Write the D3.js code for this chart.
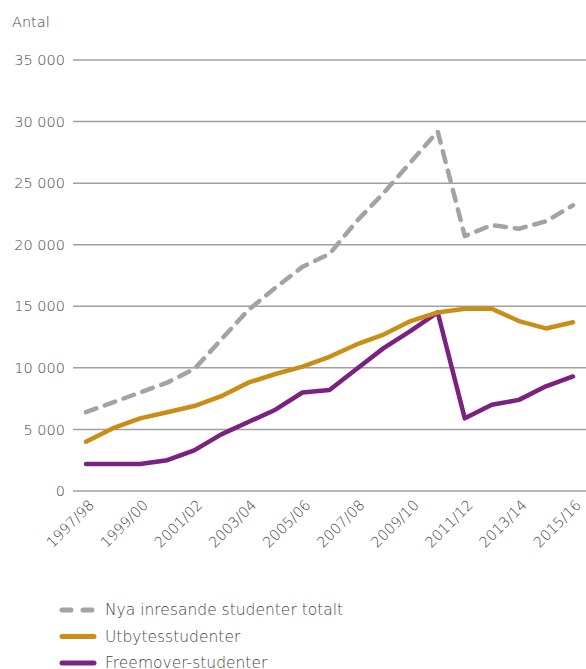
<!DOCTYPE html>
<html>
<head>
<meta charset="utf-8">
<script src="https://cdn.jsdelivr.net/npm/d3@7"></script>
<style>
  body { margin: 0; background: #fff; }
  text { font-family: "DejaVu Sans", sans-serif; font-weight: 200; fill: #444; }
  .lbl { opacity: 0.99; }
</style>
</head>
<body>
<div id="canvas"></div>
<script>
const years = ["1997/98","1998/99","1999/00","2000/01","2001/02","2002/03","2003/04","2004/05","2005/06","2006/07","2007/08","2008/09","2009/10","2010/11","2011/12","2012/13","2013/14","2014/15","2015/16"];
const totalt = [6400,7200,8000,8800,9900,12300,14700,16500,18200,19250,21900,24200,26700,29200,20700,21600,21300,21900,23200];
const utbytes = [4000,5100,5900,6400,6900,7700,8800,9500,10100,10900,11900,12700,13800,14500,14800,14800,13800,13200,13700];
const freemover = [2200,2200,2200,2500,3300,4600,5600,6600,8000,8200,9900,11600,13000,14500,5900,7000,7400,8500,9300];
const yTicks = [0,5000,10000,15000,20000,25000,30000,35000];
const xLabels = ["1997/98","1999/00","2001/02","2003/04","2005/06","2007/08","2009/10","2011/12","2013/14","2015/16"];

const series = [
  {name: "Freemover-studenter", values: freemover, color: "#7b2182", dash: null},
  {name: "Utbytesstudenter", values: utbytes, color: "#c98e17", dash: null},
  {name: "Nya inresande studenter totalt", values: totalt, color: "#a3a3a3", dash: "11,9"}
];
const legendOrder = [series[2], series[1], series[0]];

const w = 586, h = 669;
const margin = {top: 60, left: 73, right: 0, bottom: 178};

const svg = d3.select("#canvas").append("svg")
  .attr("width", w).attr("height", h);

const x = d3.scalePoint().domain(years).range([86, 573]);
const y = d3.scaleLinear().domain([0, 35000]).range([491, 60]);

const fmt = d => d3.format(",")(d).replace(",", " ");

// grid
svg.append("g").selectAll("line").data(yTicks).join("line")
  .attr("x1", margin.left).attr("x2", w)
  .attr("y1", d => y(d)).attr("y2", d => y(d))
  .attr("stroke", "#a0a0a0").attr("stroke-width", 1.5);

svg.append("g").attr("class", "lbl").selectAll("text").data(yTicks).join("text")
  .attr("x", 65).attr("y", d => y(d)).attr("dy", "0.35em")
  .attr("text-anchor", "end").style("font-size", "14.5px")
  .text(fmt);

svg.append("text").attr("class", "lbl").attr("x", 12).attr("y", 27)
  .style("font-size", "14.5px").text("Antal");

// x labels
svg.append("g").attr("class", "lbl").selectAll("text").data(xLabels).join("text")
  .attr("text-anchor", "end").style("font-size", "14.5px")
  .attr("transform", d => "translate(" + (x(d) + 9) + ",506) rotate(-45)")
  .text(d => d);

const line = d3.line().x((d, i) => x(years[i])).y(d => y(d));

svg.append("g").selectAll("path").data(series).join("path")
  .attr("d", d => line(d.values))
  .attr("fill", "none")
  .attr("stroke", d => d.color)
  .attr("stroke-width", 4.5)
  .attr("stroke-linecap", "round")
  .attr("stroke-linejoin", "round")
  .attr("stroke-dasharray", d => d.dash);

// legend
const lg = svg.append("g").attr("class", "lbl").selectAll("g").data(legendOrder).join("g")
  .attr("transform", (d, i) => "translate(0," + (610 + i * 26.5) + ")");
lg.append("line").attr("x1", 62).attr("x2", 94)
  .attr("stroke", d => d.color).attr("stroke-width", 5)
  .attr("stroke-linecap", "round")
  .attr("stroke-dasharray", d => d.dash ? "9,12" : null);
lg.append("text").attr("x", 105).attr("dy", "0.35em")
  .style("font-size", "15.5px").text(d => d.name);
</script>
</body>
</html>
